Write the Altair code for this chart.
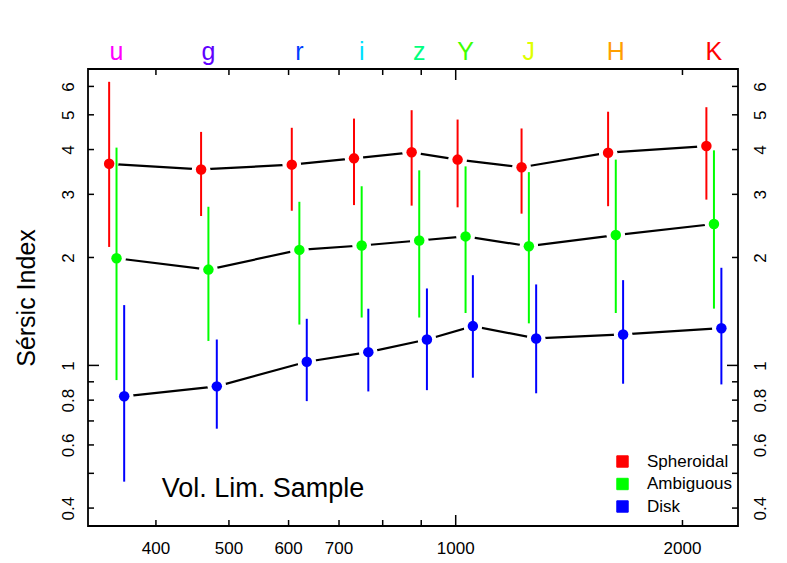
import altair as alt
import pandas as pd

# ---------------- data ----------------
bands = ["u", "g", "r", "i", "z", "Y", "J", "H", "K"]
band_wl = [354.6, 469.6, 620.1, 750.2, 894.5, 1030.6, 1250.6, 1631.2, 2202.0]
band_colors = ["#FF00FF", "#6000FF", "#0040FF", "#00DFFF", "#00FF80",
               "#40FF00", "#DFFF00", "#FF9F00", "#FF0000"]

series_names = ["Spheroidal", "Ambiguous", "Disk"]
series_colors = ["#FF0000", "#00FF00", "#0000FF"]

sph_x = [346.7, 459.2, 605.9, 732.8, 874.0, 1005.8, 1223.0, 1593.3, 2151.7]
sph_n = [3.65, 3.52, 3.63, 3.78, 3.93, 3.75, 3.57, 3.92, 4.09]
sph_lo = [2.14, 2.61, 2.70, 2.80, 2.79, 2.76, 2.65, 2.78, 2.90]
sph_hi = [6.18, 4.48, 4.60, 4.88, 5.15, 4.85, 4.58, 5.10, 5.25]

amb_x = [354.6, 469.6, 620.1, 750.2, 894.5, 1030.6, 1250.6, 1631.2, 2202.0]
amb_n = [1.99, 1.85, 2.10, 2.16, 2.23, 2.29, 2.15, 2.31, 2.48]
amb_lo = [0.91, 1.17, 1.30, 1.36, 1.36, 1.40, 1.31, 1.40, 1.44]
amb_hi = [4.05, 2.77, 2.86, 3.16, 3.50, 3.59, 3.46, 3.75, 3.98]

disk_x = [363.0, 481.8, 634.3, 765.6, 915.8, 1053.9, 1278.8, 1668.1, 2252.6]
disk_n = [0.820, 0.874, 1.024, 1.089, 1.181, 1.287, 1.189, 1.220, 1.270]
disk_lo = [0.474, 0.666, 0.795, 0.846, 0.853, 0.924, 0.836, 0.889, 0.885]
disk_hi = [1.473, 1.181, 1.349, 1.439, 1.639, 1.785, 1.682, 1.729, 1.872]

x_labels = [400, 500, 600, 700, 1000, 2000]
x_major_ticks = [1000]
x_minor_ticks = [400, 500, 600, 700, 800, 900, 2000]
y_labels = [0.4, 0.6, 0.8, 1, 2, 3, 4, 5, 6]
y_major_ticks = [1]
y_minor_ticks = [0.4, 0.5, 0.6, 0.7, 0.8, 0.9, 2, 3, 4, 5, 6]

annot_text = ["Vol. Lim. Sample"]
annot_x = [555]
annot_y = [0.451]

# ---------------- tables ----------------
rows = []
for name, xs, ns, los, his in [
    ("Spheroidal", sph_x, sph_n, sph_lo, sph_hi),
    ("Ambiguous", amb_x, amb_n, amb_lo, amb_hi),
    ("Disk", disk_x, disk_n, disk_lo, disk_hi),
]:
    for b, x, n, lo, hi in zip(bands, xs, ns, los, his):
        rows.append(dict(series=name, band=b, wl=x, n=n, lo=lo, hi=hi))
df = pd.DataFrame(rows)
band_df = pd.DataFrame({"band": bands, "wl": band_wl})
annot_df = pd.DataFrame({"t": annot_text, "x": annot_x, "y": annot_y})
xlab_df = pd.DataFrame({"v": x_labels, "t": [str(v) for v in x_labels]})

W, H = 650, 457
FONT = "Liberation Sans"
LABEL_SIZE = 17

xscale = alt.Scale(type="log", domain=[325, 2370], nice=False, zero=False)
yscale = alt.Scale(type="log", domain=[0.3565, 6.71], nice=False, zero=False)
cscale = alt.Scale(domain=series_names, range=series_colors)

legend = alt.Legend(title=None, orient="none", legendX=526, legendY=384,
                    symbolType="square", symbolSize=130,
                    symbolStrokeColor="black", symbolStrokeWidth=1,
                    symbolOpacity=1, labelFont=FONT, labelFontSize=17,
                    labelColor="black", labelOffset=16, rowPadding=4.5, padding=0)

base = alt.Chart(df)

lines = base.mark_line(color="black", strokeWidth=2.2).encode(
    x=alt.X("wl:Q", scale=xscale, axis=None),
    y=alt.Y("n:Q", scale=yscale, title="Sérsic Index",
            axis=alt.Axis(orient="left", values=y_labels, format="~g", ticks=False,
                          tickSize=0, domain=False, grid=False, labelFontSize=LABEL_SIZE,
                          labelFont=FONT, labelColor="black", labelAngle=270,
                          labelPadding=11, labelOverlap=False,
                          titleFont=FONT, titleFontSize=25,
                          titleFontWeight="normal", titleColor="black",
                          titleAngle=270, titleX=-62, titleY=H / 2,
                          titleAlign="center", titleBaseline="middle")),
    detail="series:N",
    order="wl:Q",
)

# white discs / rings that open a gap in the connecting lines around each point
halos = base.mark_circle(size=300, opacity=1, fill="white", stroke="white",
                         strokeWidth=1).encode(
    x=alt.X("wl:Q", scale=xscale, axis=None),
    y=alt.Y("n:Q", scale=yscale, axis=None),
)
rings = base.mark_point(shape="circle", filled=False, size=110, opacity=1,
                        stroke="white", strokeWidth=8).encode(
    x=alt.X("wl:Q", scale=xscale, axis=None),
    y=alt.Y("n:Q", scale=yscale, axis=None),
)

legend_carrier = base.mark_square(size=0, filled=True, stroke="black", strokeWidth=1,
                                  opacity=1).encode(
    x=alt.X("wl:Q", scale=xscale, axis=None),
    y=alt.Y("n:Q", scale=yscale, axis=None),
    color=alt.Color("series:N", scale=cscale, legend=legend),
)

bars = base.mark_rule(strokeWidth=2).encode(
    x=alt.X("wl:Q", scale=xscale, axis=None),
    y=alt.Y("lo:Q", scale=yscale, axis=None),
    y2="hi:Q",
    color=alt.Color("series:N", scale=cscale, legend=legend),
)

points = base.mark_circle(size=110, opacity=1).encode(
    x=alt.X("wl:Q", scale=xscale, axis=None),
    y=alt.Y("n:Q", scale=yscale, axis=None),
    color=alt.Color("series:N", scale=cscale, legend=legend),
)

def tick_layer(vals, axis_ch, length, side, axis=None):
    d = pd.DataFrame({"v": vals})
    c = alt.Chart(d).mark_rule(color="black", strokeWidth=1.5)
    if axis_ch == "x":
        if side == "bottom":
            return c.encode(x=alt.X("v:Q", scale=xscale, axis=None),
                            y=alt.value(H), y2=alt.value(H - length))
        return c.encode(x=alt.X("v:Q", scale=xscale, axis=None),
                        y=alt.value(0), y2=alt.value(length))
    if side == "left":
        return c.encode(y=alt.Y("v:Q", scale=yscale, axis=None),
                        x=alt.value(0), x2=alt.value(length))
    return c.encode(y=alt.Y("v:Q", scale=yscale, axis=axis, title=None),
                    x=alt.value(W), x2=alt.value(W - length))

right_axis = alt.Axis(orient="right", values=y_labels, format="~g", ticks=False,
                      tickSize=0, domain=False, grid=False, labelFontSize=LABEL_SIZE,
                      labelFont=FONT, labelColor="black", labelAngle=270,
                      labelPadding=14, labelOverlap=False)

ticks = [
    tick_layer(x_major_ticks, "x", 11, "bottom"),
    tick_layer(x_minor_ticks, "x", 6, "bottom"),
    tick_layer(x_major_ticks, "x", 11, "top"),
    tick_layer(x_minor_ticks, "x", 6, "top"),
    tick_layer(y_major_ticks, "y", 11, "left"),
    tick_layer(y_minor_ticks, "y", 6, "left"),
    tick_layer(y_major_ticks, "y", 11, "right"),
    tick_layer(y_minor_ticks, "y", 6, "right", axis=right_axis),
]

x_tick_labels = alt.Chart(xlab_df).mark_text(
    fontSize=LABEL_SIZE, font=FONT, color="black", baseline="middle", align="center"
).encode(
    x=alt.X("v:Q", scale=xscale, axis=None),
    y=alt.value(H + 23),
    text="t:N",
)

band_labels = [
    alt.Chart(band_df[band_df["band"] == b]).mark_text(
        fontSize=25, font=FONT, baseline="middle", align="center", color=c
    ).encode(
        x=alt.X("wl:Q", scale=xscale, axis=None),
        y=alt.value(-17),
        text="band:N",
    )
    for b, c in zip(bands, band_colors)
]

annot = alt.Chart(annot_df).mark_text(fontSize=27, font=FONT, color="black",
                                      baseline="middle", align="center").encode(
    x=alt.X("x:Q", scale=xscale, axis=None),
    y=alt.Y("y:Q", scale=yscale, axis=None),
    text="t:N",
)

chart = alt.layer(lines, halos, rings, legend_carrier, bars, points, *ticks,
                  x_tick_labels, *band_labels, annot).properties(
    width=W, height=H,
    autosize=alt.AutoSizeParams(type="none"),
    padding={"left": 88, "top": 69, "right": 49, "bottom": 37},
    background="white",
).configure_view(stroke="black", strokeWidth=1.8)

chart.save("out.html", embed_options={"renderer": "svg", "actions": False})
